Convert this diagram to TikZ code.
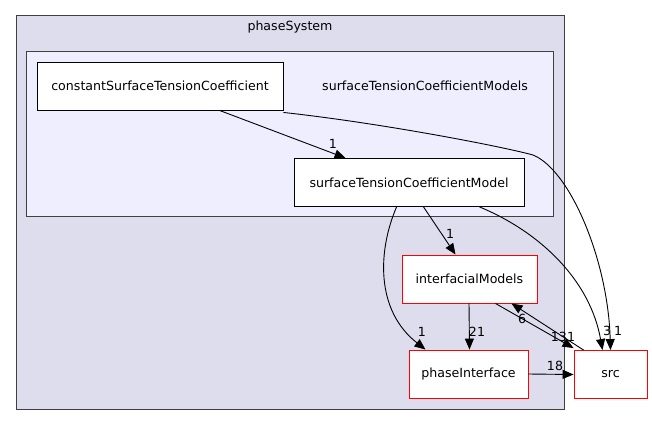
\documentclass[tikz,border=0pt]{standalone}
\usepackage{fontspec}
\setmainfont{DejaVu Sans}
\usetikzlibrary{arrows.meta}
\definecolor{outerfill}{HTML}{DDDDEE}
\definecolor{innerfill}{HTML}{EEEEFF}
\definecolor{clborder}{HTML}{404040}
\tikzset{
  every node/.style={font=\fontsize{12.6}{14}\selectfont, inner sep=0pt},
  box/.style={draw=black, fill=white, line width=0.9pt, minimum height=47pt, anchor=center},
  redbox/.style={draw=red, fill=white, line width=0.9pt, minimum height=48pt, anchor=center},
  edge/.style={draw=black, line width=0.9pt, -{Triangle[length=11pt,width=9pt]}},
  lbl/.style={font=\fontsize{12.6}{14}\selectfont}
}
\begin{document}
\begin{tikzpicture}[x=1pt,y=-1pt]
\useasboundingbox (0,0) rectangle (652,425);
% clusters
\node[draw=clborder, fill=outerfill, line width=1pt, minimum width=548pt, minimum height=393pt] (sys) at (290,212.5) {};
\node (systitle) at (290,27) {phaseSystem};
\node[draw=clborder, fill=innerfill, line width=1pt, minimum width=527pt, minimum height=164pt] (stcms) at (289.5,134) {};
\node (stcmstitle) at (425,86) {surfaceTensionCoefficientModels};
% nodes
\node[box, minimum width=246pt, minimum height=48pt] (cstc) at (160,86) {constantSurfaceTensionCoefficient};
\node[box, minimum width=230pt, minimum height=48pt] (stcm) at (409,182.5) {surfaceTensionCoefficientModel};
\node[redbox, minimum width=135pt] (im) at (469.5,279) {interfacialModels};
\node[redbox, minimum width=119pt] (pi) at (468.5,374) {phaseInterface};
\node[redbox, minimum width=73pt] (src) at (610.5,374.5) {src};
% edges
\draw[edge] ([xshift=183pt]cstc.south west) -- ([xshift=52pt]stcm.north west);
\node[lbl] at (333,144) {1};
\draw[edge] ([yshift=-2pt]cstc.south east) .. controls (380,123) and (500,146) .. (533,155)
  .. controls (570,170) and (608,260) .. ([xshift=0pt]src.north);
\node[lbl] at (618,331) {1};
\draw[edge] ([xshift=186pt]stcm.south west) .. controls (540,232) and (590,280) .. ([xshift=-8pt]src.north);
\node[lbl] at (607,331) {3};
\draw[edge] ([xshift=130pt]stcm.south west) -- ([xshift=-14pt]im.north);
\node[lbl] at (450,234) {1};
\draw[edge] ([xshift=103pt]stcm.south west) .. controls (378,250) and (375,310) .. ([xshift=-43pt]pi.north);
\node[lbl] at (422,332) {1};
\draw[edge] ([xshift=-0.5pt]im.south) -- ([xshift=1pt]pi.north);
\node[lbl] at (477,332) {21};
\draw[edge] ([xshift=26pt]im.south) -- ([yshift=2pt]src.north west);
\node[lbl] at (563,337) {131};
\draw[edge] ([xshift=10pt]src.north west) -- ([xshift=42pt]im.south);
\node[lbl] at (522,319) {6};
\draw[edge] (pi.east) -- (src.west);
\node[lbl] at (555,366) {18};
\end{tikzpicture}
\end{document}
